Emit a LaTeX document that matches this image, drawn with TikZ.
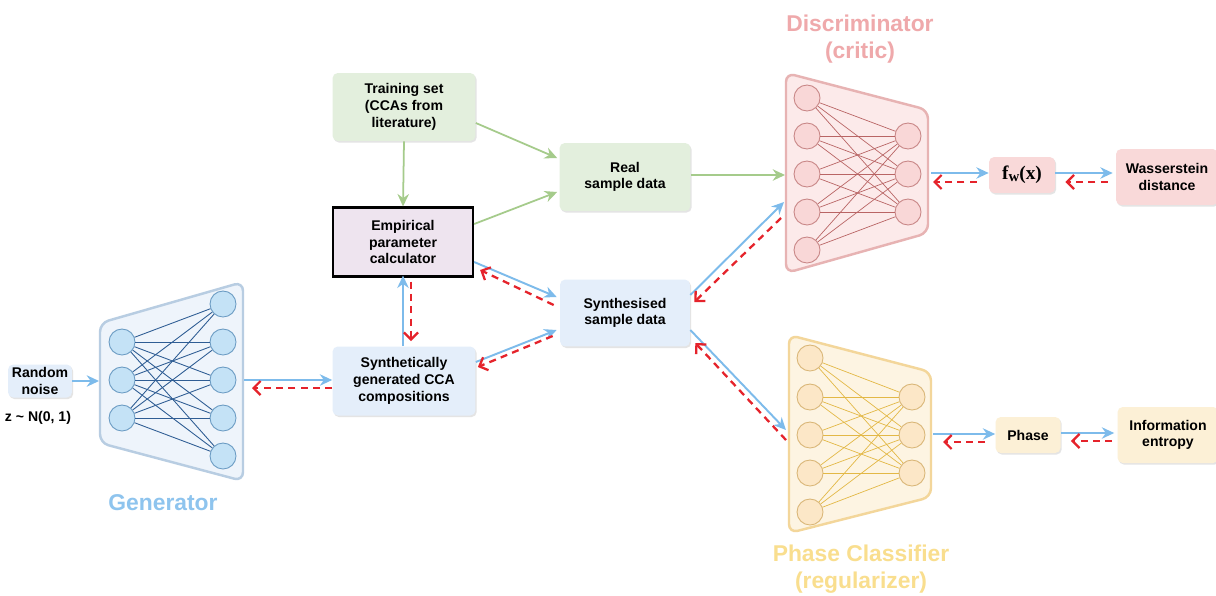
\documentclass[tikz,border=0pt]{standalone}
\usepackage{fontspec}
\setmainfont{Liberation Sans}
\newfontfamily\fwfont{Liberation Serif}
\usetikzlibrary{arrows.meta,calc,shadows}

\definecolor{arrblue}{HTML}{7DBBEB}
\definecolor{arrred}{HTML}{E5232B}
\definecolor{arrgreen}{HTML}{A5CB8B}
\definecolor{fillblue}{HTML}{E4EEFA}
\definecolor{fillgreen}{HTML}{E3EFDD}
\definecolor{fillpink}{HTML}{F9D9D9}
\definecolor{fillyellow}{HTML}{FCF0D6}
\definecolor{fillemp}{HTML}{EEE4EF}
\definecolor{gtrapfill}{HTML}{EEF4FB}
\definecolor{gtrapdraw}{HTML}{B8CDE2}
\definecolor{gneufill}{HTML}{C4E2F6}
\definecolor{gneudraw}{HTML}{6A9BC3}
\definecolor{glinecol}{HTML}{2F5D94}
\definecolor{dtrapfill}{HTML}{FCEAEA}
\definecolor{dtrapdraw}{HTML}{E7B3B3}
\definecolor{dneufill}{HTML}{F9D7D7}
\definecolor{dneudraw}{HTML}{C88686}
\definecolor{dlinecol}{HTML}{B96565}
\definecolor{ptrapfill}{HTML}{FDF4E2}
\definecolor{ptrapdraw}{HTML}{F3D69A}
\definecolor{pneufill}{HTML}{FCE7C7}
\definecolor{pneudraw}{HTML}{D9B677}
\definecolor{plinecol}{HTML}{E3B846}
\definecolor{titleblue}{HTML}{8EC4EE}
\definecolor{titlepink}{HTML}{EFA9AB}
\definecolor{titleyellow}{HTML}{F9DE8E}

\newcommand\boxfont{\fontsize{8}{9.5}\selectfont\bfseries}
\newcommand\titlefont{\fontsize{13}{15.5}\selectfont\bfseries}

\tikzset{
  box/.style={rounded corners=3pt, align=center, font=\boxfont, inner sep=1pt,
    drop shadow={shadow xshift=0.7pt, shadow yshift=-0.9pt, opacity=0.3, fill=black!35}},
  greenbox/.style={box, fill=fillgreen},
  bluebox/.style={box, fill=fillblue},
  pinkbox/.style={box, fill=fillpink},
  yellowbox/.style={box, fill=fillyellow},
  bluearr/.style={draw=arrblue, line width=1.1pt, -{Stealth[length=7pt,width=6.5pt]}},
  greenarr/.style={draw=arrgreen, line width=1pt, -{Stealth[length=7pt,width=6.5pt]}},
  redarr/.style={draw=arrred, line width=1.3pt, dash pattern=on 4pt off 3pt,
    -{Straight Barb[length=4pt,width=8pt]}},
  neuron/.style={circle, minimum size=0.52cm, inner sep=0pt, line width=0.5pt},
  gneuron/.style={neuron, fill=gneufill, draw=gneudraw},
  dneuron/.style={neuron, fill=dneufill, draw=dneudraw},
  pneuron/.style={neuron, fill=pneufill, draw=pneudraw},
  trap/.style={rounded corners=5pt, line width=1.4pt},
}

\begin{document}
\begin{tikzpicture}[x=0.02cm, y=-0.02cm]
  \useasboundingbox (0,0) rectangle (1216,595);
  \fill[white] (0,0) rectangle (1216,595);

  % Generator network
  \draw[trap, fill=gtrapfill, draw=gtrapdraw] (100,323) -- (243,282) -- (243,481) -- (100,443) -- cycle;
  \foreach \i/\y in {1/342,2/380,3/418}
    \node[gneuron] (gi\i) at (122,\y) {};
  \foreach \j/\y in {1/304,2/342,3/380,4/418,5/456}
    \node[gneuron] (go\j) at (223,\y) {};
  \foreach \i in {1,2,3}
    \foreach \j in {1,...,5}
      \draw[glinecol, line width=0.5pt] (gi\i) -- (go\j);
  \node[font=\titlefont, text=titleblue] (gtitle) at (163,503) {Generator};

  % Discriminator network
  \draw[trap, fill=dtrapfill, draw=dtrapdraw] (786,73) -- (928,110) -- (928,233) -- (786,273) -- cycle;
  \foreach \i/\y in {1/98,2/136,3/174,4/212,5/250}
    \node[dneuron] (di\i) at (807,\y) {};
  \foreach \j/\y in {1/136,2/174,3/212}
    \node[dneuron] (do\j) at (908,\y) {};
  \foreach \i in {1,...,5}
    \foreach \j in {1,2,3}
      \draw[dlinecol, line width=0.4pt] (di\i) -- (do\j);
  \node[font=\titlefont, text=titlepink, align=center] (dtitle) at (860,39) {Discriminator\\(critic)};

  % Phase classifier network
  \draw[trap, fill=ptrapfill, draw=ptrapdraw] (789,335) -- (931,372) -- (931,497) -- (789,533) -- cycle;
  \foreach \i/\y in {1/358,2/397,3/435,4/473,5/512}
    \node[pneuron] (pi\i) at (810,\y) {};
  \foreach \j/\y in {1/397,2/435,3/473}
    \node[pneuron] (po\j) at (912,\y) {};
  \foreach \i in {1,...,5}
    \foreach \j in {1,2,3}
      \draw[plinecol, line width=0.4pt] (pi\i) -- (po\j);
  \node[font=\titlefont, text=titleyellow, align=center] (ptitle) at (861,569) {Phase Classifier\\(regularizer)};

  % Boxes
  \node[bluebox, minimum width=1.28cm, minimum height=0.66cm] (noise) at (40,381) {Random\\noise};
  \node[font=\boxfont] (zdist) at (38,418) {z \textasciitilde{} N(0, 1)};
  \node[greenbox, minimum width=2.86cm, minimum height=1.36cm] (train) at (404,107) {Training set\\(CCAs from\\literature)};
  \node[greenbox, minimum width=2.62cm, minimum height=1.36cm] (real) at (625,177) {Real\\sample data};
  \node[draw=black, line width=1.3pt, fill=fillemp, align=center, font=\boxfont,
    minimum width=2.8cm, minimum height=1.38cm] (emp) at (403,242) {Empirical\\parameter\\calculator};
  \node[bluebox, minimum width=2.6cm, minimum height=1.34cm] (synd) at (625,313) {Synthesised\\sample data};
  \node[bluebox, minimum width=2.86cm, minimum height=1.38cm] (syncca) at (404,381) {Synthetically\\generated CCA\\compositions};
  \node[pinkbox, minimum width=1.32cm, minimum height=0.72cm, font=\fontsize{11}{12}\selectfont\fwfont\bfseries] (fw) at (1022,175)
    {f\raisebox{-0.25ex}{\fontsize{8.5}{9}\selectfont w}(x)};
  \node[pinkbox, minimum width=2.04cm, minimum height=1.12cm] (wass) at (1167,177) {Wasserstein\\distance};
  \node[yellowbox, minimum width=1.3cm, minimum height=0.72cm] (phbox) at (1028,435) {Phase};
  \node[yellowbox, minimum width=2.02cm, minimum height=1.12cm] (info) at (1168,435) {Information\\entropy};

  % Anchor points on the networks
  \coordinate (gin) at (99,381);
  \coordinate (gout1) at (244,380);
  \coordinate (gout2) at (252,388);
  \coordinate (dreal) at (785,175);
  \coordinate (dblue) at (784,202);
  \coordinate (dred) at (781,218);
  \coordinate (dout1) at (931,173);
  \coordinate (dout2) at (933,182);
  \coordinate (pblue) at (786,430);
  \coordinate (pred) at (786,440);
  \coordinate (pout1) at (933,434);
  \coordinate (pout2) at (943,442);

  % Connectors
  \draw[bluearr] (noise.east) -- (gin);
  \draw[bluearr] (gout1) -- (gout1 -| syncca.west);
  \draw[redarr] (gout2 -| syncca.west) -- (gout2);
  \draw[greenarr] ($(train.east)+(0,16)$) -- ($(real.west)+(-2,-19)$);
  \draw[greenarr] (train.south) -- (emp.north);
  \draw[greenarr] ($(emp.east)+(0,-18)$) -- ($(real.west)+(-2,15)$);
  \draw[greenarr] (dreal -| real.east) -- (dreal);
  \draw[bluearr] ($(emp.east)+(0,20)$) -- ($(synd.west)+(-3,-16)$);
  \draw[redarr] ($(synd.west)+(-6,-8)$) -- ($(emp.east)+(6,28)$);
  \draw[bluearr] ($(syncca.north)+(-1,0)$) -- ($(emp.south)+(0,-2)$);
  \draw[redarr] ($(emp.south)+(8,4)$) -- ($(syncca.north)+(7,-5)$);
  \draw[bluearr] ($(syncca.east)+(0,-19)$) -- ($(synd.west)+(-3,17)$);
  \draw[redarr] ($(synd.west)+(-7,23)$) -- ($(syncca.east)+(2,-14)$);
  \draw[bluearr] ($(synd.east)+(0,-18)$) -- (dblue);
  \draw[redarr] (dred) -- ($(synd.east)+(4,-11)$);
  \draw[bluearr] ($(synd.east)+(0,17)$) -- (pblue);
  \draw[redarr] (pred) -- ($(synd.east)+(5,30)$);
  \draw[bluearr] (dout1) -- (dout1 -| fw.west);
  \draw[redarr] ($(dout2 -| fw.west)+(-12,0)$) -- (dout2);
  \draw[bluearr] ($(fw.east)+(0,-2)$) -- ($(wass.west)+(-3,-4)$);
  \draw[redarr] ($(wass.west)+(-8,5)$) -- ($(fw.east)+(10,7)$);
  \draw[bluearr] (pout1) -- (pout1 -| phbox.west);
  \draw[redarr] ($(pout2 -| phbox.west)+(-10,0)$) -- (pout2);
  \draw[bluearr] ($(phbox.east)+(0,-2)$) -- ($(info.west)+(-3,-2)$);
  \draw[redarr] ($(info.west)+(-5,6)$) -- ($(phbox.east)+(10,6)$);
\end{tikzpicture}
\end{document}
